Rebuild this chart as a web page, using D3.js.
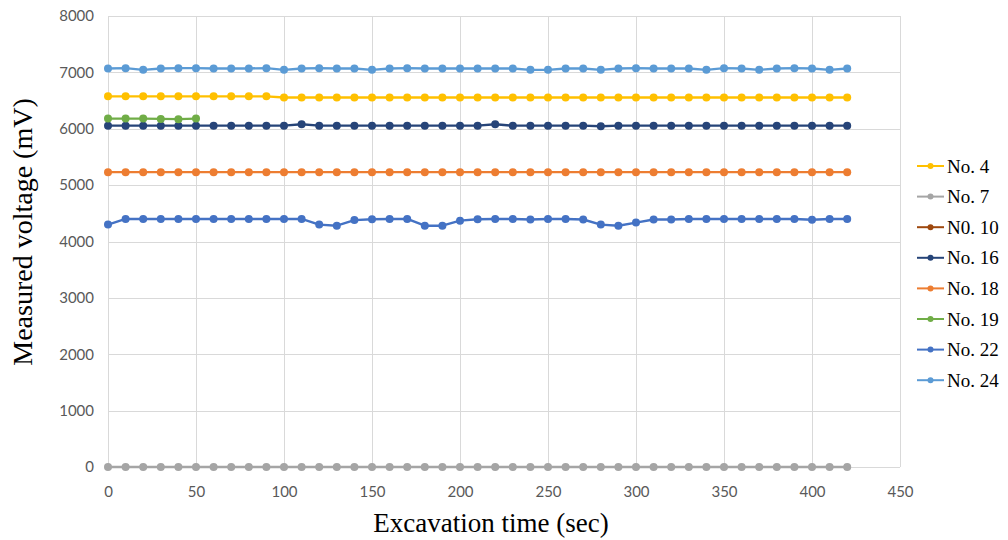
<!DOCTYPE html>
<html>
<head>
<meta charset="utf-8">
<script src="https://cdn.jsdelivr.net/npm/d3@7"></script>
<style>
  html, body { margin: 0; padding: 0; background: #fff; }
  svg { display: block; }
</style>
</head>
<body>
<div id="chart"></div>
<script>
// Excavation time (sec), one reading every 10 s
const times = [0,10,20,30,40,50,60,70,80,90,100,110,120,130,140,150,160,170,180,190,200,
               210,220,230,240,250,260,270,280,290,300,310,320,330,340,350,360,370,380,390,400,410,420];

// Measured voltage (mV) per sensor
const no4  = [6575,6575,6575,6575,6575,6575,6575,6575,6575,6575,
              6555,6555,6555,6555,6555,6555,6555,6555,6555,6555,6555,6555,6555,6555,6555,6555,6555,
              6555,6555,6555,6555,6555,6555,6555,6555,6555,6555,6555,6555,6555,6555,6555,6555];
const no7  = [0,0,0,0,0,0,0,0,0,0,0,0,0,0,0,0,0,0,0,0,0,0,0,0,0,0,0,0,0,0,0,0,0,0,0,0,0,0,0,0,0,0,0];
const no10 = [];
const no16 = [6055,6055,6055,6055,6055,6055,6055,6055,6055,6055,6055,6080,
              6055,6055,6055,6055,6055,6055,6055,6055,6055,6055,6080,
              6055,6055,6055,6055,6055,6045,
              6055,6055,6055,6055,6055,6055,6055,6055,6055,6055,6055,6055,6055,6055];
const no18 = [5230,5230,5230,5230,5230,5230,5230,5230,5230,5230,5230,5230,5230,5230,5230,
              5230,5230,5230,5230,5230,5230,5230,5230,5230,5230,5230,5230,5230,5230,5230,
              5230,5230,5230,5230,5230,5230,5230,5230,5230,5230,5230,5230,5230];
const no19 = [6180,6180,6180,6175,6170,6180];
const no22 = [4300,4400,4400,4400,4400,4400,4400,4400,4400,4400,4400,4400,
              4300,4280,4380,4395,4400,4400,4280,4280,4370,4395,
              4400,4400,4390,4400,4400,4390,4300,4280,4335,4390,4390,4400,4400,4400,4400,
              4400,4400,4400,4385,4400,4400];
const no24 = [7070,7075,7045,7070,7075,7075,7070,7070,7070,7075,7045,7070,7075,7070,7070,
              7045,7070,7075,7070,7070,7070,7070,7070,7070,7045,7045,7070,7070,7045,7070,
              7075,7070,7070,7070,7045,7075,7070,7045,7070,7075,7070,7045,7070];

const seriesNames  = ["No. 4","No. 7","N0. 10","No. 16","No. 18","No. 19","No. 22","No. 24"];
const seriesValues = [no4, no7, no10, no16, no18, no19, no22, no24];
const seriesColors = ["#FFC000","#A5A5A5","#9E480E","#264478","#ED7D31","#70AD47","#4472C4","#5B9BD5"];

const xTicks = [0,50,100,150,200,250,300,350,400,450];
const yTicks = [0,1000,2000,3000,4000,5000,6000,7000,8000];

const W = 1008, H = 540;
const plot = { left: 108, right: 900, top: 16, bottom: 467 };

const svg = d3.select("#chart").append("svg")
  .attr("width", W).attr("height", H);

const x = d3.scaleLinear().domain([0, 450]).range([plot.left, plot.right]);
const y = d3.scaleLinear().domain([0, 8000]).range([plot.bottom, plot.top]);

// Grid: vertical lines at each x tick, horizontal at each y tick
const grid = svg.append("g").attr("stroke", "#D9D9D9").attr("stroke-width", 1);
grid.selectAll("line.v").data(xTicks).join("line")
  .attr("class", "v")
  .attr("x1", d => Math.round(x(d)) + 0.5).attr("x2", d => Math.round(x(d)) + 0.5)
  .attr("y1", plot.top).attr("y2", plot.bottom);
grid.selectAll("line.h").data(yTicks).join("line")
  .attr("class", "h")
  .attr("x1", plot.left).attr("x2", plot.right)
  .attr("y1", d => Math.round(y(d)) + 0.5).attr("y2", d => Math.round(y(d)) + 0.5);

// Axes (labels only; lines come from the grid)
const xAxis = svg.append("g")
  .attr("transform", `translate(0,${plot.bottom})`)
  .call(d3.axisBottom(x).tickValues(xTicks).tickSize(0).tickPadding(19));
const yAxis = svg.append("g")
  .attr("transform", `translate(${plot.left},0)`)
  .call(d3.axisLeft(y).tickValues(yTicks).tickSize(0).tickPadding(14).tickFormat(d3.format("d")));
[xAxis, yAxis].forEach(a => {
  a.select(".domain").remove();
  a.selectAll("text")
    .attr("fill", "#595959")
    .style("font-family", "Lato, 'Open Sans', sans-serif")
    .style("font-size", "15px");
});

// Series lines and markers, drawn in order so later sensors sit on top
const line = d3.line()
  .x((d, i) => x(times[i]))
  .y(d => y(d));

const seriesG = svg.append("g");
seriesValues.forEach((vals, k) => {
  const g = seriesG.append("g");
  if (vals.length > 1) {
    g.append("path")
      .datum(vals)
      .attr("fill", "none")
      .attr("stroke", seriesColors[k])
      .attr("stroke-width", 2.4)
      .attr("stroke-linejoin", "round")
      .attr("d", line);
  }
  g.selectAll("circle").data(vals).join("circle")
    .attr("cx", (d, i) => x(times[i]))
    .attr("cy", d => y(d))
    .attr("r", 4)
    .attr("fill", seriesColors[k]);
});

// Axis titles
svg.append("text")
  .attr("x", 491).attr("y", 532)
  .attr("text-anchor", "middle")
  .style("font-family", "'Liberation Serif', 'Times New Roman', serif")
  .style("font-size", "27px")
  .attr("fill", "#000")
  .text("Excavation time (sec)");

svg.append("text")
  .attr("transform", "translate(32,232) rotate(-90)")
  .attr("text-anchor", "middle")
  .style("font-family", "'Liberation Serif', 'Times New Roman', serif")
  .style("font-size", "28px")
  .attr("fill", "#000")
  .text("Measured voltage (mV)");

// Legend
const legend = svg.append("g");
const legendTop = 166, legendStep = 30.6;
seriesNames.forEach((name, k) => {
  const ly = legendTop + k * legendStep;
  const item = legend.append("g").attr("transform", `translate(0,${ly})`);
  item.append("line")
    .attr("x1", 917).attr("x2", 944).attr("y1", 0).attr("y2", 0)
    .attr("stroke", seriesColors[k]).attr("stroke-width", 2);
  item.append("circle")
    .attr("cx", 930.5).attr("cy", 0).attr("r", 3)
    .attr("fill", seriesColors[k]);
  item.append("text")
    .attr("x", 947).attr("y", 0).attr("dy", "0.35em")
    .style("font-family", "'Liberation Serif', 'Times New Roman', serif")
    .style("font-size", "19px")
    .attr("fill", "#000")
    .text(name);
});
</script>
</body>
</html>
